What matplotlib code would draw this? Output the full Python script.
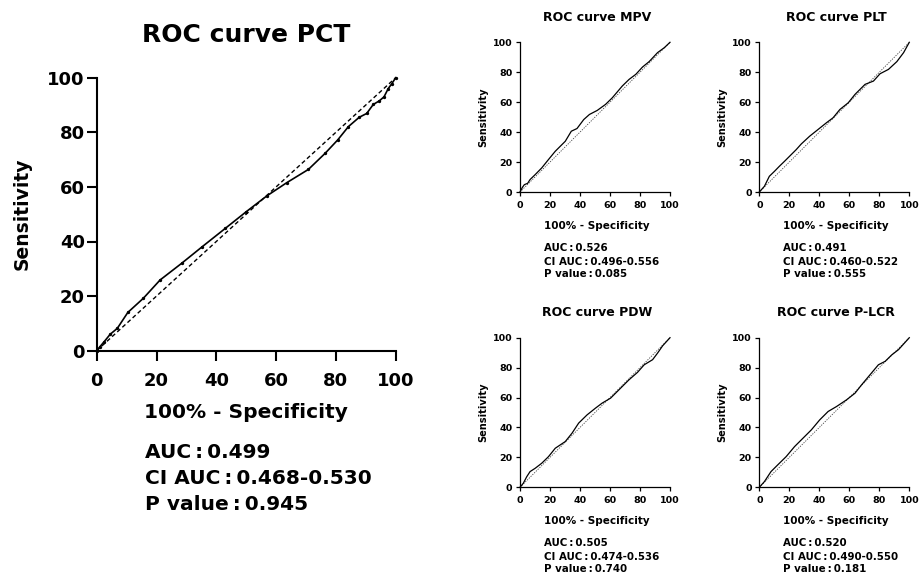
import matplotlib
matplotlib.use("Agg")
import matplotlib.pyplot as plt

plt.rcParams['font.family'] = ['DejaVu Sans']
plt.rcParams['font.weight'] = 'bold'

W, H = 919, 574

# ---------------- data ----------------
pct_x = [0, 1.1, 2.5, 4.5, 6.9, 10.4, 15.6, 21.2, 28.4, 35.3, 43.0, 50.0, 56.9, 63.5,
         70.8, 76.4, 80.6, 84.2, 87.8, 90.3, 92.5, 94.5, 96.1, 97.5, 98.7, 100]
pct_y = [0, 1.5, 3.3, 6.0, 8.2, 14.0, 19.2, 25.9, 32.0, 38.1, 44.8, 50.9, 56.7, 61.5,
         66.4, 72.3, 77.2, 82.1, 85.5, 86.9, 90.2, 91.5, 93.0, 96.0, 97.8, 100]

mpv_x = [0, 1.6, 2.9, 5.1, 6.7, 10.1, 14.5, 19.0, 23.5, 30.2, 34.2, 38.0, 42.5, 46.3,
         51.5, 57.0, 61.5, 68.2, 72.7, 77.2, 81.7, 86.1, 91.7, 96.2, 100]
mpv_y = [0, 3.1, 4.9, 5.8, 8.3, 11.6, 16.1, 21.7, 27.2, 33.9, 40.6, 42.4, 48.4, 51.8,
         54.5, 58.5, 62.9, 70.8, 75.2, 78.6, 83.5, 87.1, 93.1, 96.4, 100]

plt_x = [0, 3.4, 6.7, 10.1, 13.4, 16.8, 21.3, 24.6, 28.0, 33.6, 39.1, 44.7, 49.2,
         53.7, 59.3, 63.8, 70.5, 76.1, 80.5, 86.1, 91.7, 96.2, 100]
plt_y = [0, 3.8, 10.5, 13.8, 17.2, 20.5, 25.0, 28.3, 32.1, 37.3, 41.7, 46.2, 49.6,
         55.1, 59.6, 65.2, 71.9, 74.1, 79.0, 81.9, 87.1, 93.1, 100]

pdw_x = [0, 2.2, 4.5, 6.7, 10.1, 14.5, 19.0, 23.5, 30.2, 34.7, 39.1, 44.7, 50.3,
         54.8, 60.4, 66.0, 72.7, 78.3, 82.8, 88.4, 91.7, 95.1, 100]
pdw_y = [0, 2.7, 7.1, 10.5, 12.7, 16.1, 20.5, 26.1, 30.6, 36.2, 42.9, 48.4, 52.9,
         56.3, 59.6, 65.2, 71.9, 76.8, 81.9, 85.3, 89.7, 94.6, 100]

plcr_x = [0, 3.4, 7.8, 12.3, 17.9, 23.5, 29.1, 34.7, 40.3, 45.9, 51.5, 58.2, 63.8,
          68.2, 73.8, 79.4, 83.9, 88.4, 92.8, 100]
plcr_y = [0, 3.8, 10.5, 15.0, 20.5, 27.2, 32.8, 38.4, 45.1, 50.7, 54.0, 58.5, 62.9,
          68.5, 75.2, 81.9, 84.2, 88.6, 92.0, 100]

ticks = [0, 20, 40, 60, 80, 100]
titles = ["ROC curve PCT", "ROC curve MPV", "ROC curve PLT", "ROC curve PDW", "ROC curve P-LCR"]
auc = ["0.499", "0.526", "0.491", "0.505", "0.520"]
ci = ["0.468-0.530", "0.496-0.556", "0.460-0.522", "0.474-0.536", "0.490-0.550"]
pval = ["0.945", "0.085", "0.555", "0.740", "0.181"]

fig = plt.figure(figsize=(W / 100, H / 100), dpi=100)


def px_axes(l, t, r, b):
    return fig.add_axes([l / W, 1 - b / H, (r - l) / W, (b - t) / H])


def ftext(x, y, s, size, ha='center', va='center', rot=0):
    fig.text(x / W, 1 - y / H, s, fontsize=size, fontweight='bold', ha=ha, va=va,
             rotation=rot, color='black')


def style(ax, big):
    ax.set_xlim(0, 100)
    ax.set_ylim(0, 100)
    ax.set_xticks(ticks)
    ax.set_yticks(ticks)
    for s in ['top', 'right']:
        ax.spines[s].set_visible(False)
    lw = 1.5 if big else 0.9
    for s in ['left', 'bottom']:
        ax.spines[s].set_linewidth(lw)
    if big:
        ax.tick_params(axis='both', direction='out', length=7, width=1.5, labelsize=13)
        ax.tick_params(axis='x', pad=8)
        ax.tick_params(axis='y', pad=1.5)
    else:
        ax.tick_params(axis='both', direction='out', length=3, width=0.9, labelsize=6.8)
        ax.tick_params(axis='x', pad=3.5)
        ax.tick_params(axis='y', pad=2.5)
    for lab in ax.get_xticklabels() + ax.get_yticklabels():
        lab.set_fontweight('bold')
    ax.patch.set_alpha(0)


# ---------------- big PCT plot ----------------
ax0 = px_axes(96.7, 77.7, 395.7, 350.7)
ax0.plot([0, 100], [0, 100], linestyle=(0, (3, 2)), color='black', lw=1.0, clip_on=False)
ax0.plot(pct_x, pct_y, color='black', lw=1.2, marker='o', markersize=1.4, clip_on=False)
style(ax0, True)
ftext(246, 35, titles[0], 18)
ftext(246, 412, "100% - Specificity", 14.5)
ftext(22, 214, "Sensitivity", 13.5, rot=90)
ftext(145, 453, "AUC\u2009:\u2009" + auc[0], 14.5, ha='left')
ftext(145, 479, "CI AUC\u2009:\u2009" + ci[0], 14.5, ha='left')
ftext(145, 505, "P value\u2009:\u2009" + pval[0], 14.5, ha='left')

# ---------------- small plots ----------------
small = [
    (mpv_x, mpv_y, 520, 42.3, 670, 192, 1),
    (plt_x, plt_y, 759.3, 42.3, 909.3, 192, 2),
    (pdw_x, pdw_y, 520, 337.7, 670, 487.3, 3),
    (plcr_x, plcr_y, 759.3, 337.7, 909.3, 487.3, 4),
]
for xs, ys, l, t, r, b, i in small:
    ax = px_axes(l, t, r, b)
    ax.plot([0, 100], [0, 100], linestyle=(0, (1.5, 1.5)), color='#444444', lw=0.6, clip_on=False)
    ax.plot(xs, ys, color='black', lw=0.9, clip_on=False)
    style(ax, False)
    cx = (l + r) / 2 + 2
    ftext(cx, t - 25, titles[i], 9)
    ftext(cx, b + 34, "100% - Specificity", 7.5)
    ftext(l - 37, (t + b) / 2, "Sensitivity", 7.1, rot=90)
    ax_left = l + 24
    ftext(ax_left, b + 56, "AUC\u2009:\u2009" + auc[i], 7.4, ha='left')
    ftext(ax_left, b + 70, "CI AUC\u2009:\u2009" + ci[i], 7.4, ha='left')
    ftext(ax_left, b + 82, "P value\u2009:\u2009" + pval[i], 7.4, ha='left')

fig.savefig("out.png", dpi=100)
